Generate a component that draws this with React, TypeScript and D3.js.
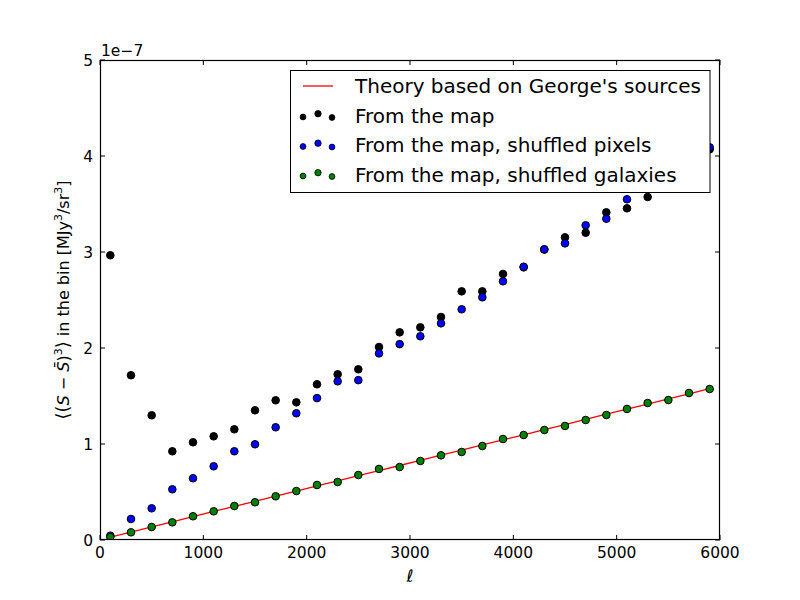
import React from "react";
import * as d3 from "d3";

const ells = [100, 300, 500, 700, 900, 1100, 1300, 1500, 1700, 1900, 2100, 2300, 2500, 2700, 2900, 3100, 3300, 3500, 3700, 3900, 4100, 4300, 4500, 4700, 4900, 5100, 5300, 5500, 5700, 5900];

// values in units of 1e-7
const theory = [0.03, 0.083, 0.137, 0.19, 0.243, 0.297, 0.35, 0.403, 0.456, 0.51, 0.563, 0.616, 0.67, 0.723, 0.776, 0.83, 0.883, 0.936, 0.99, 1.043, 1.096, 1.15, 1.203, 1.256, 1.31, 1.363, 1.416, 1.47, 1.523, 1.576];
const fromMap = [2.966, 1.716, 1.299, 0.924, 1.018, 1.08, 1.153, 1.351, 1.455, 1.434, 1.622, 1.726, 1.778, 2.01, 2.163, 2.215, 2.323, 2.59, 2.59, 2.771, 2.84, 3.025, 3.153, 3.201, 3.413, 3.455, 3.573, 3.75, 3.9, 4.07];
const shuffledPixels = [0.045, 0.219, 0.33, 0.528, 0.643, 0.768, 0.924, 0.997, 1.174, 1.32, 1.478, 1.653, 1.665, 1.944, 2.04, 2.122, 2.257, 2.403, 2.528, 2.695, 2.847, 3.028, 3.09, 3.278, 3.347, 3.549, 3.7, 3.85, 3.98, 4.09];
const shuffledGalaxies = [0.03, 0.08, 0.135, 0.184, 0.247, 0.299, 0.354, 0.393, 0.455, 0.51, 0.573, 0.604, 0.677, 0.74, 0.76, 0.823, 0.882, 0.917, 0.979, 1.052, 1.094, 1.146, 1.188, 1.25, 1.302, 1.365, 1.427, 1.458, 1.531, 1.573];

const xTicks = [0, 1000, 2000, 3000, 4000, 5000, 6000];
const yTicks = [0, 1, 2, 3, 4, 5];

const legendLabels = ["Theory based on George's sources", "From the map", "From the map, shuffled pixels", "From the map, shuffled galaxies"];
const seriesColors = ["#000000", "#0000ff", "#008000"];

const FONT = "DejaVu Sans, sans-serif";

export default function App() {
  const left = 100, right = 720, top = 60, bottom = 540;
  const x = d3.scaleLinear().domain([0, 6000]).range([left, right]);
  const y = d3.scaleLinear().domain([0, 5]).range([bottom, top]);
  const line = d3.line<number>().x((_, i) => x(ells[i])).y((d) => y(d));
  const scatterSeries = [fromMap, shuffledPixels, shuffledGalaxies];
  const tickLen = 5;

  const legX = 290.5, legY = 70.5, legW = 419.5, legH = 122;
  const rowY = [86, 115.5, 145, 174.5];
  const dotDx = [303, 318, 332];
  const dotDy = [1.5, -1.8, 2];
  const dotR = [2.9, 3.2, 2.9];

  return (
    <svg width={800} height={600} style={{ position: "absolute", left: 0, top: 0, background: "#fff" }}>
      <rect x={0} y={0} width={800} height={600} fill="#fff" />
      <defs>
        <clipPath id="axclip">
          <rect x={left} y={top} width={right - left} height={bottom - top} />
        </clipPath>
      </defs>
      <g clipPath="url(#axclip)">
        <path d={line(theory) || ""} fill="none" stroke="#ff0000" strokeWidth={1.3} />
        {scatterSeries.map((s, si) => (
          <g key={si}>
            {s.map((v, i) => (
              <circle key={i} cx={x(ells[i])} cy={y(v)} r={3.8} fill={seriesColors[si]} stroke="#000" strokeWidth={1} />
            ))}
          </g>
        ))}
      </g>
      {/* axes frame */}
      <rect x={left + 0.5} y={top + 0.5} width={right - left - 1} height={bottom - top - 1} fill="none" stroke="#000" strokeWidth={1.2} />
      {/* x ticks */}
      {xTicks.map((t) => (
        <g key={"x" + t}>
          <line x1={x(t)} x2={x(t)} y1={bottom} y2={bottom - tickLen} stroke="#000" />
          <line x1={x(t)} x2={x(t)} y1={top} y2={top + tickLen} stroke="#000" />
          <text x={x(t)} y={558} fontFamily={FONT} fontSize={15.5} textAnchor="middle">{t}</text>
        </g>
      ))}
      {yTicks.map((t) => (
        <g key={"y" + t}>
          <line x1={left} x2={left + tickLen} y1={y(t)} y2={y(t)} stroke="#000" />
          <line x1={right} x2={right - tickLen} y1={y(t)} y2={y(t)} stroke="#000" />
          <text x={93} y={y(t) + 5.5} fontFamily={FONT} fontSize={15.5} textAnchor="end">{t}</text>
        </g>
      ))}
      <text x={101} y={56} fontFamily={FONT} fontSize={15.5}>1e−7</text>
      {/* axis labels */}
      <text x={410} y={582} fontFamily={FONT} fontSize={17} fontStyle="italic" textAnchor="middle">ℓ</text>
      <text transform={`translate(69,300) rotate(-90)`} fontFamily={FONT} fontSize={16} textAnchor="middle">
        <tspan fontSize={18}>⟨(</tspan>
        <tspan fontStyle="italic">S</tspan>
        <tspan> − </tspan>
        <tspan fontStyle="italic">S̄</tspan>
        <tspan>)</tspan>
        <tspan dy={-7} fontSize={11}>3</tspan>
        <tspan dy={7} fontSize={18}>⟩</tspan>
        <tspan> in the bin [MJy</tspan>
        <tspan dy={-7} fontSize={11}>3</tspan>
        <tspan dy={7}>/sr</tspan>
        <tspan dy={-7} fontSize={11}>3</tspan>
        <tspan dy={7}>]</tspan>
      </text>
      {/* legend */}
      <rect x={legX} y={legY} width={legW} height={legH} fill="#fff" stroke="#000" strokeWidth={1} />
      <line x1={303} x2={333} y1={rowY[0]} y2={rowY[0]} stroke="#ff0000" strokeWidth={1.3} />
      {scatterSeries.map((_, si) => (
        <g key={"l" + si}>
          {dotDx.map((dx, k) => (
            <circle key={k} cx={dx} cy={rowY[si + 1] + dotDy[k]} r={dotR[k]} fill={seriesColors[si]} stroke="#000" strokeWidth={0.8} />
          ))}
        </g>
      ))}
      {legendLabels.map((l, i) => (
        <text key={l} x={355} y={rowY[i] + 7} fontFamily={FONT} fontSize={20}>{l}</text>
      ))}
    </svg>
  );
}
